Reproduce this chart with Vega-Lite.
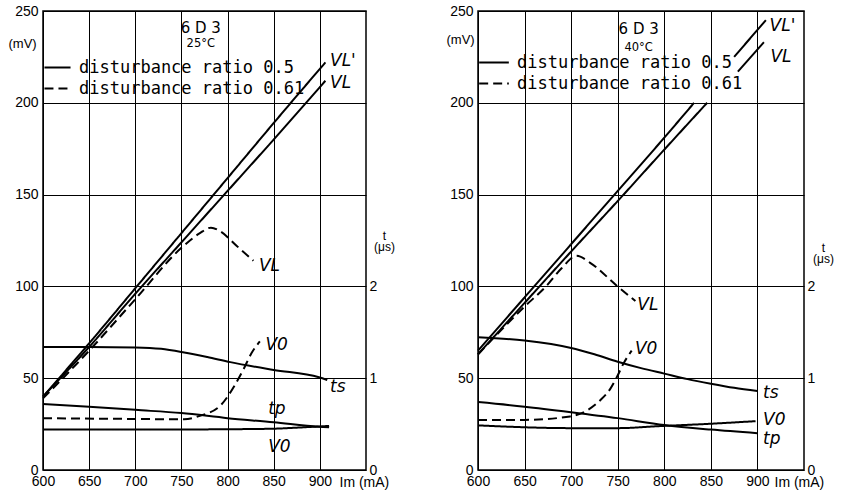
{
  "$schema": "https://vega.github.io/schema/vega-lite/v6.json",
  "background": "white",
  "padding": {"left": 7, "top": 3, "right": 5, "bottom": 3},
  "bounds": "flush",
  "spacing": 112,
  "resolve": {"legend": {"strokeDash": "independent"}},
  "datasets": {
    "mv25": [
      {"curve": "VL'", "ratio": "0.5", "part": 1, "I": 600, "V": 40},
      {"curve": "VL'", "ratio": "0.5", "part": 1, "I": 650, "V": 69},
      {"curve": "VL'", "ratio": "0.5", "part": 1, "I": 700, "V": 99},
      {"curve": "VL'", "ratio": "0.5", "part": 1, "I": 750, "V": 129},
      {"curve": "VL'", "ratio": "0.5", "part": 1, "I": 800, "V": 159},
      {"curve": "VL'", "ratio": "0.5", "part": 1, "I": 850, "V": 189},
      {"curve": "VL'", "ratio": "0.5", "part": 1, "I": 906, "V": 222},
      {"curve": "VL", "ratio": "0.5", "part": 1, "I": 600, "V": 40},
      {"curve": "VL", "ratio": "0.5", "part": 1, "I": 650, "V": 67},
      {"curve": "VL", "ratio": "0.5", "part": 1, "I": 700, "V": 96},
      {"curve": "VL", "ratio": "0.5", "part": 1, "I": 750, "V": 124},
      {"curve": "VL", "ratio": "0.5", "part": 1, "I": 800, "V": 152},
      {"curve": "VL", "ratio": "0.5", "part": 1, "I": 850, "V": 180},
      {"curve": "VL", "ratio": "0.5", "part": 1, "I": 906, "V": 212},
      {"curve": "VL", "ratio": "0.61", "part": 1, "I": 600, "V": 39},
      {"curve": "VL", "ratio": "0.61", "part": 1, "I": 650, "V": 65},
      {"curve": "VL", "ratio": "0.61", "part": 1, "I": 700, "V": 93},
      {"curve": "VL", "ratio": "0.61", "part": 1, "I": 750, "V": 121},
      {"curve": "VL", "ratio": "0.61", "part": 1, "I": 770, "V": 129},
      {"curve": "VL", "ratio": "0.61", "part": 1, "I": 782, "V": 132},
      {"curve": "VL", "ratio": "0.61", "part": 1, "I": 792, "V": 130},
      {"curve": "VL", "ratio": "0.61", "part": 1, "I": 810, "V": 122},
      {"curve": "VL", "ratio": "0.61", "part": 1, "I": 828, "V": 114},
      {"curve": "V0", "ratio": "0.5", "part": 1, "I": 600, "V": 22},
      {"curve": "V0", "ratio": "0.5", "part": 1, "I": 700, "V": 22},
      {"curve": "V0", "ratio": "0.5", "part": 1, "I": 800, "V": 22.2},
      {"curve": "V0", "ratio": "0.5", "part": 1, "I": 850, "V": 22.5},
      {"curve": "V0", "ratio": "0.5", "part": 1, "I": 880, "V": 23.2},
      {"curve": "V0", "ratio": "0.5", "part": 1, "I": 910, "V": 24},
      {"curve": "V0", "ratio": "0.61", "part": 1, "I": 600, "V": 28.2},
      {"curve": "V0", "ratio": "0.61", "part": 1, "I": 700, "V": 27.8},
      {"curve": "V0", "ratio": "0.61", "part": 1, "I": 753, "V": 27.6},
      {"curve": "V0", "ratio": "0.61", "part": 1, "I": 770, "V": 29.5},
      {"curve": "V0", "ratio": "0.61", "part": 1, "I": 793, "V": 35.5},
      {"curve": "V0", "ratio": "0.61", "part": 1, "I": 807, "V": 45.5},
      {"curve": "V0", "ratio": "0.61", "part": 1, "I": 817, "V": 54.6},
      {"curve": "V0", "ratio": "0.61", "part": 1, "I": 826, "V": 63.7},
      {"curve": "V0", "ratio": "0.61", "part": 1, "I": 835, "V": 70}
    ],
    "t25": [
      {"curve": "ts", "I": 600, "t": 1.34},
      {"curve": "ts", "I": 650, "t": 1.34},
      {"curve": "ts", "I": 700, "t": 1.335},
      {"curve": "ts", "I": 728, "t": 1.32},
      {"curve": "ts", "I": 753, "t": 1.28},
      {"curve": "ts", "I": 778, "t": 1.23},
      {"curve": "ts", "I": 803, "t": 1.175},
      {"curve": "ts", "I": 850, "t": 1.09},
      {"curve": "ts", "I": 899, "t": 1.01},
      {"curve": "ts", "I": 908, "t": 0.98},
      {"curve": "tp", "I": 600, "t": 0.72},
      {"curve": "tp", "I": 650, "t": 0.69},
      {"curve": "tp", "I": 700, "t": 0.655},
      {"curve": "tp", "I": 750, "t": 0.62},
      {"curve": "tp", "I": 800, "t": 0.565},
      {"curve": "tp", "I": 850, "t": 0.52},
      {"curve": "tp", "I": 899, "t": 0.47},
      {"curve": "tp", "I": 910, "t": 0.465}
    ],
    "mv40": [
      {"curve": "VL'", "ratio": "0.5", "part": 1, "I": 600, "V": 65},
      {"curve": "VL'", "ratio": "0.5", "part": 1, "I": 650, "V": 94},
      {"curve": "VL'", "ratio": "0.5", "part": 1, "I": 700, "V": 123},
      {"curve": "VL'", "ratio": "0.5", "part": 1, "I": 750, "V": 152},
      {"curve": "VL'", "ratio": "0.5", "part": 1, "I": 800, "V": 181},
      {"curve": "VL'", "ratio": "0.5", "part": 1, "I": 832, "V": 200},
      {"curve": "VL'", "ratio": "0.5", "part": 2, "I": 875, "V": 225},
      {"curve": "VL'", "ratio": "0.5", "part": 2, "I": 909, "V": 245},
      {"curve": "VL", "ratio": "0.5", "part": 1, "I": 600, "V": 63},
      {"curve": "VL", "ratio": "0.5", "part": 1, "I": 650, "V": 91},
      {"curve": "VL", "ratio": "0.5", "part": 1, "I": 700, "V": 119},
      {"curve": "VL", "ratio": "0.5", "part": 1, "I": 750, "V": 146.5},
      {"curve": "VL", "ratio": "0.5", "part": 1, "I": 800, "V": 174.5},
      {"curve": "VL", "ratio": "0.5", "part": 1, "I": 846, "V": 200},
      {"curve": "VL", "ratio": "0.5", "part": 2, "I": 879, "V": 217},
      {"curve": "VL", "ratio": "0.5", "part": 2, "I": 907, "V": 233},
      {"curve": "VL", "ratio": "0.61", "part": 1, "I": 600, "V": 63},
      {"curve": "VL", "ratio": "0.61", "part": 1, "I": 650, "V": 89},
      {"curve": "VL", "ratio": "0.61", "part": 1, "I": 673, "V": 100},
      {"curve": "VL", "ratio": "0.61", "part": 1, "I": 690, "V": 110},
      {"curve": "VL", "ratio": "0.61", "part": 1, "I": 706, "V": 116.7},
      {"curve": "VL", "ratio": "0.61", "part": 1, "I": 720, "V": 113},
      {"curve": "VL", "ratio": "0.61", "part": 1, "I": 749, "V": 100.4},
      {"curve": "VL", "ratio": "0.61", "part": 1, "I": 769, "V": 92},
      {"curve": "V0", "ratio": "0.5", "part": 1, "I": 600, "V": 24.3},
      {"curve": "V0", "ratio": "0.5", "part": 1, "I": 700, "V": 22.8},
      {"curve": "V0", "ratio": "0.5", "part": 1, "I": 750, "V": 22.8},
      {"curve": "V0", "ratio": "0.5", "part": 1, "I": 795, "V": 23.9},
      {"curve": "V0", "ratio": "0.5", "part": 1, "I": 850, "V": 25.2},
      {"curve": "V0", "ratio": "0.5", "part": 1, "I": 898, "V": 26.6},
      {"curve": "V0", "ratio": "0.61", "part": 1, "I": 600, "V": 27.3},
      {"curve": "V0", "ratio": "0.61", "part": 1, "I": 650, "V": 27.3},
      {"curve": "V0", "ratio": "0.61", "part": 1, "I": 699, "V": 29.2},
      {"curve": "V0", "ratio": "0.61", "part": 1, "I": 717, "V": 32.4},
      {"curve": "V0", "ratio": "0.61", "part": 1, "I": 731, "V": 37.9},
      {"curve": "V0", "ratio": "0.61", "part": 1, "I": 742, "V": 44.2},
      {"curve": "V0", "ratio": "0.61", "part": 1, "I": 749, "V": 50.5},
      {"curve": "V0", "ratio": "0.61", "part": 1, "I": 756, "V": 57.8},
      {"curve": "V0", "ratio": "0.61", "part": 1, "I": 765, "V": 65}
    ],
    "t40": [
      {"curve": "ts", "I": 600, "t": 1.445},
      {"curve": "ts", "I": 650, "t": 1.41},
      {"curve": "ts", "I": 700, "t": 1.33},
      {"curve": "ts", "I": 725, "t": 1.26},
      {"curve": "ts", "I": 750, "t": 1.18},
      {"curve": "ts", "I": 775, "t": 1.11},
      {"curve": "ts", "I": 800, "t": 1.05},
      {"curve": "ts", "I": 825, "t": 0.99},
      {"curve": "ts", "I": 850, "t": 0.94},
      {"curve": "ts", "I": 875, "t": 0.895},
      {"curve": "ts", "I": 900, "t": 0.86},
      {"curve": "tp", "I": 600, "t": 0.74},
      {"curve": "tp", "I": 650, "t": 0.69},
      {"curve": "tp", "I": 700, "t": 0.63},
      {"curve": "tp", "I": 750, "t": 0.565},
      {"curve": "tp", "I": 800, "t": 0.49},
      {"curve": "tp", "I": 850, "t": 0.44},
      {"curve": "tp", "I": 900, "t": 0.4}
    ]
  },
  "hconcat": [
    {
      "width": 323,
      "height": 459,
      "resolve": {"scale": {"y": "independent"}},
      "layer": [
        {
          "layer": [
            {
              "data": {"name": "mv25"},
              "mark": {"type": "line", "color": "black", "strokeWidth": 2, "interpolate": "monotone"},
              "encoding": {
                "x": {"field": "I", "type": "quantitative", "scale": {"domain": [600, 950], "nice": false, "zero": false},
                  "axis": {"values": [600, 650, 700, 750, 800, 850, 900], "grid": true, "labelPadding": 4, "title": "Im (mA)", "titleX": 296, "titleY": 12, "titleAlign": "left", "titleBaseline": "middle", "titleFontSize": 14}},
                "y": {"field": "V", "type": "quantitative", "scale": {"domain": [0, 250], "nice": false},
                  "axis": {"values": [0, 50, 100, 150, 200, 250], "grid": true, "labelPadding": 5, "title": "(mV)", "titleAngle": 0, "titleX": -35, "titleY": 32, "titleAlign": "left", "titleBaseline": "middle"}},
                "strokeDash": {"field": "ratio", "type": "nominal", "scale": {"domain": ["0.5", "0.61"], "range": [[1, 0], [9, 5]]},
                  "legend": {"orient": "none", "legendX": 0, "legendY": 46, "title": null, "symbolSize": 680, "labelExpr": "'disturbance ratio ' + datum.label"}},
                "detail": [{"field": "curve"}, {"field": "part"}]
              }
            },
            {"data": {"values": [{}]}, "mark": {"type": "text", "text": "6 D 3", "fontSize": 15, "font": "DejaVu Sans"}, "encoding": {"x": {"datum": 771}, "y": {"datum": 241}}},
            {"data": {"values": [{}]}, "mark": {"type": "text", "text": "25°C", "fontSize": 11.5, "font": "DejaVu Sans"}, "encoding": {"x": {"datum": 771}, "y": {"datum": 232}}},
            {"data": {"values": [{}]}, "mark": {"type": "text", "text": "VL'", "align": "left", "fontSize": 17, "fontStyle": "italic", "font": "DejaVu Sans"}, "encoding": {"x": {"datum": 911}, "y": {"datum": 223}}},
            {"data": {"values": [{}]}, "mark": {"type": "text", "text": "VL", "align": "left", "fontSize": 17, "fontStyle": "italic", "font": "DejaVu Sans"}, "encoding": {"x": {"datum": 911}, "y": {"datum": 211}}},
            {"data": {"values": [{}]}, "mark": {"type": "text", "text": "VL", "align": "left", "fontSize": 17, "fontStyle": "italic", "font": "DejaVu Sans"}, "encoding": {"x": {"datum": 834}, "y": {"datum": 111}}},
            {"data": {"values": [{}]}, "mark": {"type": "text", "text": "V0", "align": "left", "fontSize": 17, "fontStyle": "italic", "font": "DejaVu Sans"}, "encoding": {"x": {"datum": 841}, "y": {"datum": 68}}},
            {"data": {"values": [{}]}, "mark": {"type": "text", "text": "ts", "align": "left", "fontSize": 17, "fontStyle": "italic", "font": "DejaVu Sans"}, "encoding": {"x": {"datum": 911}, "y": {"datum": 45}}},
            {"data": {"values": [{}]}, "mark": {"type": "text", "text": "tp", "align": "left", "fontSize": 17, "fontStyle": "italic", "font": "DejaVu Sans"}, "encoding": {"x": {"datum": 844}, "y": {"datum": 33}}},
            {"data": {"values": [{}]}, "mark": {"type": "text", "text": "V0", "align": "left", "fontSize": 17, "fontStyle": "italic", "font": "DejaVu Sans"}, "encoding": {"x": {"datum": 844}, "y": {"datum": 12.5}}}
          ]
        },
        {
          "data": {"name": "t25"},
          "mark": {"type": "line", "color": "black", "strokeWidth": 2, "interpolate": "monotone"},
          "encoding": {
            "x": {"field": "I", "type": "quantitative"},
            "y": {"field": "t", "type": "quantitative", "scale": {"domain": [0, 5], "nice": false},
              "axis": {"orient": "right", "values": [0, 1, 2], "grid": false, "labelPadding": 3, "title": ["t", "(μs)"], "titleAngle": 0, "titleX": 18, "titleY": 219, "titleAlign": "center", "titleBaseline": "top", "titleLineHeight": 11, "titleFontSize": 12}},
            "detail": {"field": "curve"}
          }
        }
      ]
    },
    {
      "width": 326,
      "height": 459,
      "resolve": {"scale": {"y": "independent"}},
      "layer": [
        {
          "layer": [
            {
              "data": {"name": "mv40"},
              "mark": {"type": "line", "color": "black", "strokeWidth": 2, "interpolate": "monotone"},
              "encoding": {
                "x": {"field": "I", "type": "quantitative", "scale": {"domain": [600, 950], "nice": false, "zero": false},
                  "axis": {"values": [600, 650, 700, 750, 800, 850, 900], "grid": true, "labelPadding": 4, "title": "Im (mA)", "titleX": 296, "titleY": 12, "titleAlign": "left", "titleBaseline": "middle", "titleFontSize": 14}},
                "y": {"field": "V", "type": "quantitative", "scale": {"domain": [0, 250], "nice": false},
                  "axis": {"values": [0, 50, 100, 150, 200, 250], "grid": true, "labelPadding": 5, "title": "(mV)", "titleAngle": 0, "titleX": -32, "titleY": 28, "titleAlign": "left", "titleBaseline": "middle"}},
                "strokeDash": {"field": "ratio", "type": "nominal", "scale": {"domain": ["0.5", "0.61"], "range": [[1, 0], [9, 5]]},
                  "legend": {"orient": "none", "legendX": 0, "legendY": 41, "title": null, "symbolSize": 880, "labelExpr": "'disturbance ratio ' + datum.label"}},
                "detail": [{"field": "curve"}, {"field": "part"}]
              }
            },
            {"data": {"values": [{}]}, "mark": {"type": "text", "text": "6 D 3", "fontSize": 15, "font": "DejaVu Sans"}, "encoding": {"x": {"datum": 772.5}, "y": {"datum": 240}}},
            {"data": {"values": [{}]}, "mark": {"type": "text", "text": "40°C", "fontSize": 11.5, "font": "DejaVu Sans"}, "encoding": {"x": {"datum": 772.5}, "y": {"datum": 230}}},
            {"data": {"values": [{}]}, "mark": {"type": "text", "text": "VL'", "align": "left", "fontSize": 17, "fontStyle": "italic", "font": "DejaVu Sans"}, "encoding": {"x": {"datum": 913}, "y": {"datum": 242}}},
            {"data": {"values": [{}]}, "mark": {"type": "text", "text": "VL", "align": "left", "fontSize": 17, "fontStyle": "italic", "font": "DejaVu Sans"}, "encoding": {"x": {"datum": 914}, "y": {"datum": 225}}},
            {"data": {"values": [{}]}, "mark": {"type": "text", "text": "VL", "align": "left", "fontSize": 17, "fontStyle": "italic", "font": "DejaVu Sans"}, "encoding": {"x": {"datum": 771}, "y": {"datum": 90}}},
            {"data": {"values": [{}]}, "mark": {"type": "text", "text": "V0", "align": "left", "fontSize": 17, "fontStyle": "italic", "font": "DejaVu Sans"}, "encoding": {"x": {"datum": 768.5}, "y": {"datum": 66}}},
            {"data": {"values": [{}]}, "mark": {"type": "text", "text": "ts", "align": "left", "fontSize": 17, "fontStyle": "italic", "font": "DejaVu Sans"}, "encoding": {"x": {"datum": 906}, "y": {"datum": 42}}},
            {"data": {"values": [{}]}, "mark": {"type": "text", "text": "V0", "align": "left", "fontSize": 17, "fontStyle": "italic", "font": "DejaVu Sans"}, "encoding": {"x": {"datum": 906}, "y": {"datum": 27}}},
            {"data": {"values": [{}]}, "mark": {"type": "text", "text": "tp", "align": "left", "fontSize": 17, "fontStyle": "italic", "font": "DejaVu Sans"}, "encoding": {"x": {"datum": 906}, "y": {"datum": 17}}}
          ]
        },
        {
          "data": {"name": "t40"},
          "mark": {"type": "line", "color": "black", "strokeWidth": 2, "interpolate": "monotone"},
          "encoding": {
            "x": {"field": "I", "type": "quantitative"},
            "y": {"field": "t", "type": "quantitative", "scale": {"domain": [0, 5], "nice": false},
              "axis": {"orient": "right", "values": [0, 1, 2], "grid": false, "labelPadding": 3, "title": ["t", "(μs)"], "titleAngle": 0, "titleX": 19, "titleY": 231, "titleAlign": "center", "titleBaseline": "top", "titleLineHeight": 11, "titleFontSize": 12}},
            "detail": {"field": "curve"}
          }
        }
      ]
    }
  ],
  "config": {
    "font": "Liberation Sans",
    "view": {"stroke": "black", "strokeWidth": 1.5},
    "axis": {"domain": false, "ticks": false, "gridColor": "black", "gridWidth": 1, "gridOpacity": 1, "labelColor": "black", "labelFont": "Liberation Sans", "labelFontSize": 14, "labelFlush": false, "labelOverlap": false, "titleColor": "black", "titleFont": "Liberation Sans", "titleFontSize": 13, "titleFontWeight": "normal", "titlePadding": 0},
    "legend": {"labelFont": "DejaVu Sans Mono", "labelFontSize": 17, "labelColor": "black", "labelLimit": 400, "symbolType": "stroke", "symbolStrokeWidth": 2, "symbolStrokeColor": "black", "labelOffset": 7, "clipHeight": 21, "rowPadding": 0, "padding": 0, "offset": 0},
    "text": {"color": "black"}
  }
}
